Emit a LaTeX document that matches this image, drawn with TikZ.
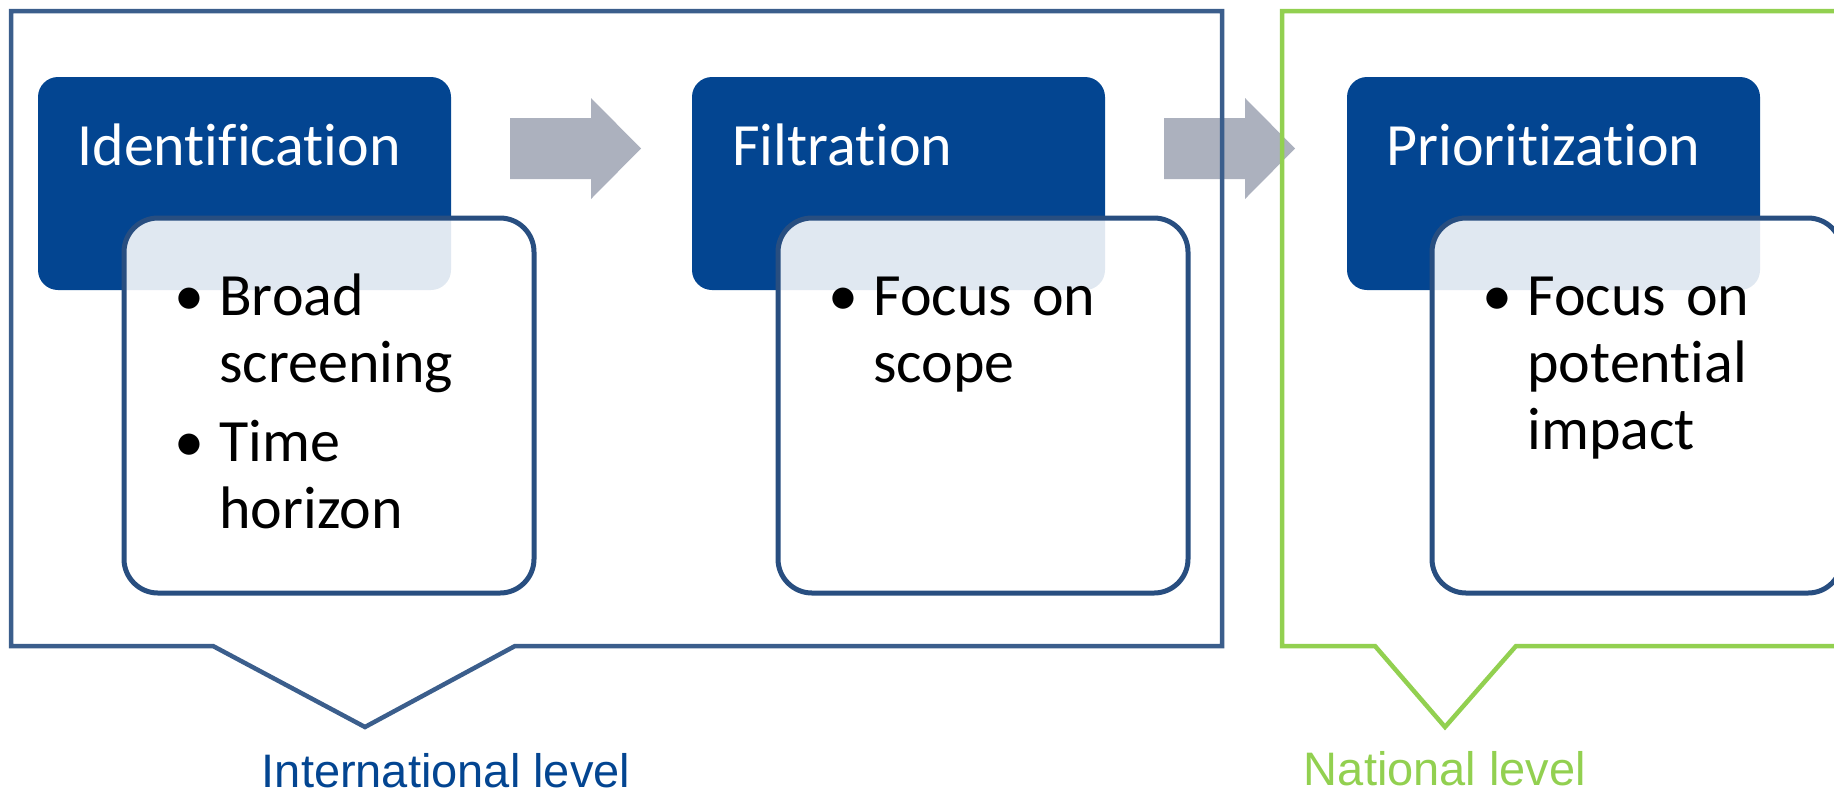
\documentclass[tikz,border=0pt]{standalone}
\usepackage{fontspec}
\setmainfont{Carlito}[Ligatures=NoCommon]
\newfontfamily\levelfont{Liberation Sans}
\usepackage{tikz}

\definecolor{headblue}{RGB}{3,69,145}
\definecolor{frameblue}{RGB}{59,94,140}
\definecolor{detailblue}{RGB}{40,78,128}
\definecolor{arrowgray}{RGB}{172,177,190}
\definecolor{natgreen}{RGB}{146,208,80}

% punto de lista: vineta y bloque de lineas
\newcommand{\bul}[1]{\makebox[24.5pt][l]{\hspace{2pt}•}\parbox[t]{160pt}{#1}\par}

\tikzset{
    head/.style={fill=headblue, rounded corners=10pt, minimum width=206.5pt, minimum height=106.5pt, anchor=north west, inner sep=0pt, outer sep=0pt},
    headtxt/.style={text=white, font=\fontsize{30}{36}\selectfont, anchor=base west, inner sep=0pt},
    detail/.style={draw=detailblue, line width=2.5pt, fill=white, fill opacity=0.88, rounded corners=17pt, minimum width=205pt, minimum height=187.5pt, anchor=north west, inner sep=0pt, outer sep=0pt},
    bodytxt/.style={text=black, font=\fontsize{30}{33.5}\selectfont, anchor=base west, inner sep=0pt, text width=185pt},
    levellbl/.style={font=\levelfont\fontsize{23.5}{28}\selectfont, anchor=base, inner sep=0pt},
    bigarrow/.style={fill=arrowgray},
    groupframe/.style={line width=2.25pt, line join=miter}
}

\begin{document}
\begin{tikzpicture}[x=0.5pt, y=-0.5pt]
    \useasboundingbox (0,0) rectangle (1834,794);
    \clip (0,0) rectangle (1834,794);

    % Flechas
    \fill[bigarrow] (510,118) -- (591,118) -- (591,98) -- (641,148.5) -- (591,199) -- (591,179) -- (510,179) -- cycle;
    \fill[bigarrow] (1164,118) -- (1245,118) -- (1245,98) -- (1295,148.5) -- (1245,199) -- (1245,179) -- (1164,179) -- cycle;

    % Marcos de nivel
    \draw[groupframe, frameblue] (213,646) -- (11,646) -- (11,11) -- (1222,11) -- (1222,646) -- (515,646) -- (365,727) -- cycle;
    \draw[groupframe, natgreen] (1375,646) -- (1282,646) -- (1282,11) -- (1900,11) -- (1900,646) -- (1516,646) -- (1445,727) -- cycle;

    % Identificacion
    \node[head] (idhead) at (38,77) {};
    \node[headtxt] (idtxt) at (77,165) {Identification};
    \node[detail] (iddet) at (124,218) {};
    \node[bodytxt] (idbody) at (170,315) {\bul{Broad\\screening}\vspace{13pt}\bul{Time\\horizon}};

    % Filtracion
    \node[head] (filhead) at (692,77) {};
    \node[headtxt] (filtxt) at (732,165) {Filtration};
    \node[detail] (fildet) at (778,218) {};
    \node[bodytxt] (filbody) at (824,315) {\bul{Focus on\\scope}};

    % Priorizacion
    \node[head] (prihead) at (1347,77) {};
    \node[headtxt] (pritxt) at (1386,165) {Prioritization};
    \node[detail] (pridet) at (1432,218) {};
    \node[bodytxt] (pribody) at (1478,315) {\bul{Focus on\\potential\\impact}};

    % Etiquetas
    \node[levellbl, text=headblue] (intlbl) at (446,787) {International level};
    \node[levellbl, text=natgreen] (natlbl) at (1445,785) {National level};
\end{tikzpicture}
\end{document}
